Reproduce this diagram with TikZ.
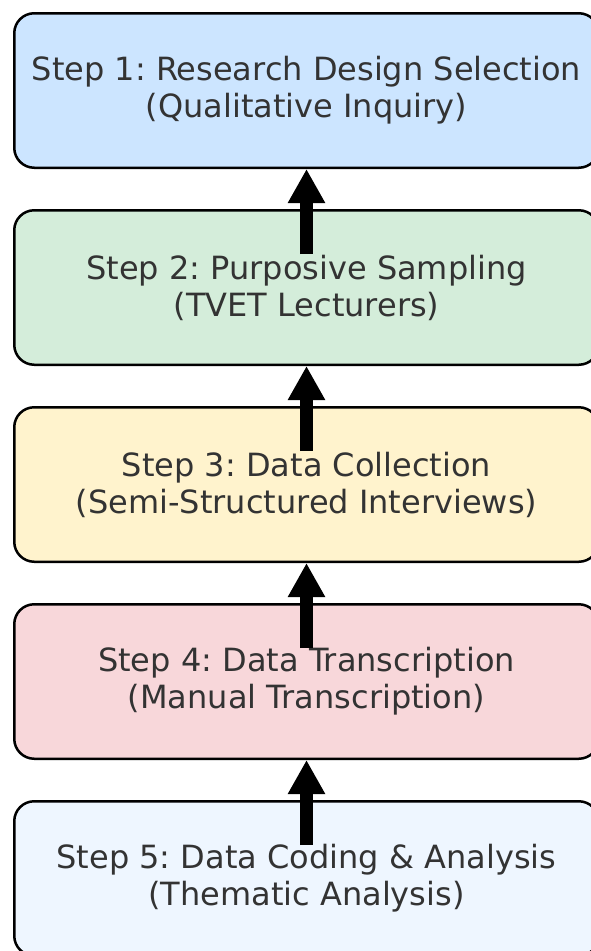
\documentclass[tikz,border=0pt]{standalone}
\usepackage{fontspec}
\setmainfont{DejaVu Sans}
\usetikzlibrary{arrows.meta,positioning}
\frenchspacing

\definecolor{designblue}{HTML}{CCE5FF}
\definecolor{samplegreen}{HTML}{D4EDDA}
\definecolor{collectyellow}{HTML}{FFF3CD}
\definecolor{transcribepink}{HTML}{F8D7DA}
\definecolor{codingblue}{HTML}{EEF6FF}
\definecolor{steptext}{HTML}{333333}

\begin{document}
\begin{tikzpicture}[>={Triangle[width=35pt,length=34pt]},node distance=40pt,
        stepbox/.style={draw=black,line width=2.5pt,rounded corners=20pt,
          minimum width=584.5pt,minimum height=154.5pt,align=center,
          text=steptext,font=\fontsize{32}{37}\selectfont}]

  \useasboundingbox (0,0) rectangle (590pt,-951pt);

  \node[stepbox,fill=designblue] (s_1) at (306.5pt,-90.5pt)
    {Step 1: Research Design Selection\\(Qualitative Inquiry)};
  \node[stepbox,fill=samplegreen] (s_2) [below=of s_1]
    {Step 2: Purposive Sampling\\(TVET Lecturers)};
  \node[stepbox,fill=collectyellow] (s_3) [below=of s_2]
    {Step 3: Data Collection\\(Semi-Structured Interviews)};
  \node[stepbox,fill=transcribepink] (s_4) [below=of s_3]
    {Step 4: Data Transcription\\(Manual Transcription)};
  \node[stepbox,fill=codingblue] (s_5) [below=of s_4]
    {Step 5: Data Coding \& Analysis\\(Thematic Analysis)};

  \path[->,line width=13pt]
        ([yshift=-45pt]s_2.north) edge (s_1.south)
        ([yshift=-45pt]s_3.north) edge (s_2.south)
        ([yshift=-45pt]s_4.north) edge (s_3.south)
        ([yshift=-45pt]s_5.north) edge (s_4.south);

\end{tikzpicture}
\end{document}
